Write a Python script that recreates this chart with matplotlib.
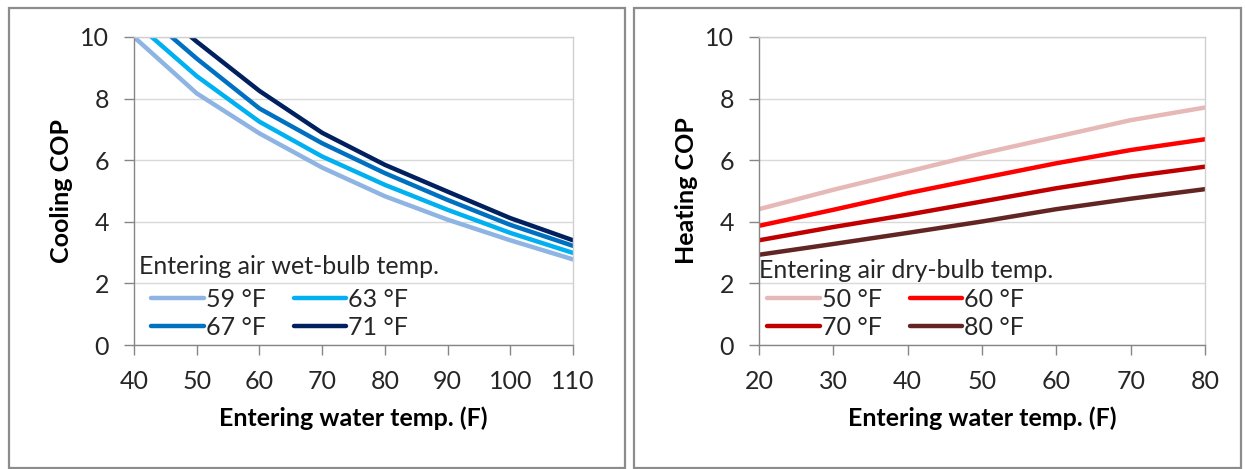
import matplotlib
matplotlib.use("Agg")
import matplotlib.pyplot as plt
from matplotlib.patches import Rectangle

plt.rcParams['font.family'] = ['Lato', 'DejaVu Sans']

# ---- data ----
cool_x = [40, 50, 60, 70, 80, 90, 100, 110]
cool_labels = ["59 °F", "63 °F", "67 °F", "71 °F"]
cool_59 = [10.0, 8.17, 6.87, 5.76, 4.83, 4.07, 3.40, 2.78]
cool_63 = [10.5, 8.73, 7.25, 6.12, 5.20, 4.39, 3.64, 2.99]
cool_67 = [11.05, 9.30, 7.68, 6.55, 5.58, 4.71, 3.90, 3.22]
cool_71 = [11.55, 9.85, 8.25, 6.89, 5.85, 4.98, 4.12, 3.40]
cool_colors = ["#8DB4E2", "#00B0F0", "#0070C0", "#002060"]

heat_x = [20, 30, 40, 50, 60, 70, 80]
heat_labels = ["50 °F", "60 °F", "70 °F", "80 °F"]
heat_50 = [4.41, 5.04, 5.63, 6.22, 6.76, 7.30, 7.71]
heat_60 = [3.87, 4.39, 4.93, 5.42, 5.90, 6.33, 6.68]
heat_70 = [3.40, 3.83, 4.23, 4.66, 5.09, 5.47, 5.79]
heat_80 = [2.93, 3.28, 3.64, 4.01, 4.41, 4.75, 5.06]
heat_colors = ["#E6B9B8", "#FF0000", "#C00000", "#632523"]

W, H = 1245, 469
fig = plt.figure(figsize=(W / 100, H / 100), dpi=100)

def fx(px):
    return px / W

def fy(py):
    return 1 - py / H

# panel borders
for (x0, x1) in [(8.5, 625), (634, 1241)]:
    fig.patches.append(Rectangle((fx(x0), fy(468)), fx(x1) - fx(x0), fy(8) - fy(468),
                                 transform=fig.transFigure, fill=False,
                                 edgecolor="#8C8C8C", linewidth=1.6, zorder=0))

FS = 18
TXT = "#262626"

def setup(ax, xticks, ylabel, series, labels, colors, xdata, legend_title,
          title_px, leg_px):
    lines = []
    for ys, lab, c in zip(series, labels, colors):
        ln, = ax.plot(xdata, ys, color=c, lw=3.2, label=lab, solid_capstyle='round')
        lines.append(ln)
    ax.set_xlim(xticks[0], xticks[-1])
    ax.set_ylim(0, 10)
    ax.set_xticks(xticks)
    ax.set_yticks(range(0, 11, 2))
    ax.grid(axis='y', color="#D9D9D9", lw=1.0)
    ax.set_axisbelow(True)
    for s in ['left', 'bottom']:
        ax.spines[s].set_color("#868686")
        ax.spines[s].set_linewidth(1.0)
    for s in ['top', 'right']:
        ax.spines[s].set_color("#D0D0D0")
        ax.spines[s].set_linewidth(1.0)
    ax.tick_params(axis='both', direction='out', length=7, width=1.0, color="#868686",
                   labelsize=FS, labelcolor=TXT)
    ax.tick_params(axis='x', pad=11)
    ax.tick_params(axis='y', pad=11)
    ax.set_xlabel("Entering water temp. (F)", fontsize=FS, fontweight='bold',
                  labelpad=10, color="black")
    ax.set_ylabel(ylabel, fontsize=FS, fontweight='bold', labelpad=5, color="black")
    # legend title as separate text
    fig.text(fx(title_px[0]), fy(title_px[1]), legend_title, fontsize=FS, color=TXT,
             ha='left', va='center')
    order = [0, 2, 1, 3]  # row-wise fill for 2 columns
    leg = fig.legend([lines[i] for i in order], [labels[i] for i in order],
                     ncol=2, loc='center left',
                     bbox_to_anchor=(fx(leg_px[0]), fy(leg_px[1])),
                     bbox_transform=fig.transFigure, frameon=False,
                     fontsize=FS, handlelength=2.1, handletextpad=0.1,
                     columnspacing=1.1, labelspacing=0.2,
                     borderpad=0.0, borderaxespad=0.0)
    for t in leg.get_texts():
        t.set_color(TXT)

ax1 = fig.add_axes([fx(134), fy(345), fx(573) - fx(134), fy(37) - fy(345)])
setup(ax1, [40, 50, 60, 70, 80, 90, 100, 110], "Cooling COP",
      [cool_59, cool_63, cool_67, cool_71], cool_labels, cool_colors, cool_x,
      "Entering air wet-bulb temp.", (139, 266), (151, 313))

ax2 = fig.add_axes([fx(759), fy(345), fx(1205) - fx(759), fy(37) - fy(345)])
setup(ax2, [20, 30, 40, 50, 60, 70, 80], "Heating COP",
      [heat_50, heat_60, heat_70, heat_80], heat_labels, heat_colors, heat_x,
      "Entering air dry-bulb temp.", (759, 270), (767, 313))

fig.savefig("out.png", dpi=100)
